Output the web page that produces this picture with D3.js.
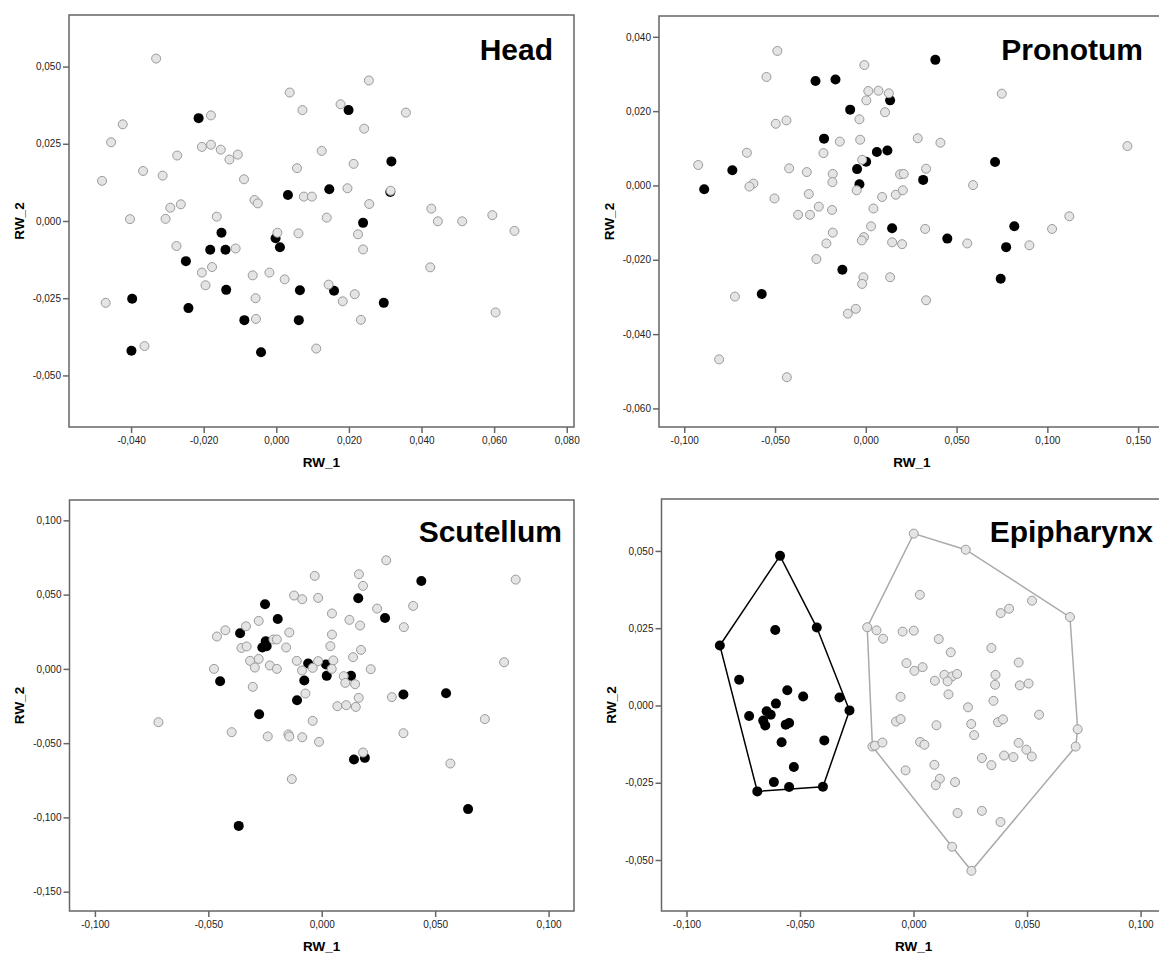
<!DOCTYPE html>
<html>
<head>
<meta charset="utf-8">
<script src="https://cdn.jsdelivr.net/npm/d3@7"></script>
<style>
    body { margin: 0; background: #fff; }
    svg { display: block; }
    text { font-family: "Liberation Sans", Arial, sans-serif; }
</style>
</head>
<body>
<div id="chart"></div>
<script>
// RW_1 / RW_2 scores, [x, y], black = group A, grey = group B
let headBlack = [
    [-0.0214, 0.0333], [0.0032, 0.0084], [-0.0151, -0.0038], [-0.0002, -0.0056],
    [0.0199, 0.0359], [0.0317, 0.0193], [0.0146, 0.0103], [0.0239, -0.0006],
    [0.0314, 0.0094], [0.0010, -0.0085], [-0.0182, -0.0093], [-0.0140, -0.0093],
    [-0.0249, -0.0130], [-0.0138, -0.0223], [-0.0397, -0.0252], [-0.0242, -0.0282],
    [-0.0088, -0.0321], [-0.0399, -0.0420], [-0.0042, -0.0425], [0.0065, -0.0224],
    [0.0062, -0.0321], [0.0159, -0.0226], [0.0296, -0.0265]
];
let headGrey = [
    [-0.0331, 0.0526], [-0.0423, 0.0313], [-0.0455, 0.0255], [-0.0480, 0.0130],
    [-0.0403, 0.0006], [-0.0367, 0.0162], [-0.0313, 0.0147], [-0.0273, 0.0212],
    [-0.0292, 0.0043], [-0.0263, 0.0054], [-0.0305, 0.0007], [-0.0205, 0.0240],
    [-0.0180, 0.0342], [-0.0180, 0.0247], [-0.0153, 0.0231], [-0.0129, 0.0199],
    [-0.0106, 0.0215], [-0.0089, 0.0135], [-0.0164, 0.0014], [-0.0060, 0.0068],
    [-0.0051, 0.0057], [0.0037, 0.0416], [0.0057, 0.0171], [0.0003, -0.0038],
    [0.0061, -0.0040], [0.0255, 0.0455], [0.0072, 0.0359], [0.0177, 0.0378],
    [0.0357, 0.0351], [0.0242, 0.0299], [0.0125, 0.0227], [0.0213, 0.0185],
    [0.0196, 0.0106], [0.0076, 0.0079], [0.0098, 0.0079], [0.0315, 0.0098],
    [0.0256, 0.0055], [0.0139, 0.0011], [0.0427, 0.0040], [0.0445, -0.0001],
    [0.0512, -0.0001], [0.0595, 0.0019], [0.0656, -0.0032], [0.0225, -0.0043],
    [-0.0275, -0.0081], [-0.0112, -0.0089], [-0.0205, -0.0167], [-0.0177, -0.0149],
    [-0.0195, -0.0208], [-0.0065, -0.0176], [-0.0019, -0.0167], [0.0023, -0.0189],
    [-0.0057, -0.0250], [-0.0056, -0.0317], [-0.0470, -0.0265], [-0.0363, -0.0405],
    [0.0239, -0.0092], [0.0424, -0.0150], [0.0144, -0.0206], [0.0216, -0.0237],
    [0.0183, -0.0260], [0.0233, -0.0320], [0.0604, -0.0296], [0.0110, -0.0413]
];

let pronotumBlack = [
    [-0.0890, -0.0010], [-0.0735, 0.0041], [-0.0277, 0.0281], [-0.0167, 0.0285],
    [-0.0086, 0.0204], [-0.0230, 0.0126], [0.0061, 0.0090], [0.0119, 0.0094],
    [-0.0048, 0.0044], [0.0002, 0.0064], [-0.0035, 0.0003], [0.0383, 0.0338],
    [0.0134, 0.0229], [0.0712, 0.0063], [0.0316, 0.0015], [0.0145, -0.0115],
    [0.0818, -0.0110], [0.0449, -0.0143], [-0.0573, -0.0292], [-0.0129, -0.0227],
    [0.0773, -0.0166], [0.0743, -0.0251]
];
let pronotumGrey = [
    [-0.0487, 0.0362], [-0.0547, 0.0292], [-0.0008, 0.0324], [0.0014, 0.0254],
    [0.0070, 0.0255], [0.0127, 0.0248], [0.0003, 0.0229], [-0.0035, 0.0178],
    [-0.0496, 0.0166], [-0.0437, 0.0175], [-0.0143, 0.0118], [-0.0031, 0.0123],
    [-0.0655, 0.0088], [-0.0233, 0.0087], [-0.0923, 0.0055], [-0.0422, 0.0046],
    [-0.0325, 0.0036], [-0.0182, 0.0031], [-0.0184, 0.0009], [-0.0020, 0.0069],
    [-0.0619, 0.0005], [-0.0641, -0.0003], [-0.0050, -0.0013], [-0.0503, -0.0035],
    [-0.0314, -0.0023], [-0.0259, -0.0057], [-0.0373, -0.0079], [-0.0307, -0.0079],
    [-0.0186, -0.0066], [0.0042, -0.0062], [0.0029, -0.0110], [-0.0182, -0.0127],
    [-0.0010, -0.0139], [-0.0022, -0.0148], [0.0106, 0.0197], [0.0286, 0.0127],
    [0.0411, 0.0115], [0.0749, 0.0247], [0.1441, 0.0106], [0.0332, 0.0045],
    [0.0189, 0.0030], [0.0209, 0.0031], [0.0090, -0.0031], [0.0165, -0.0025],
    [0.0204, -0.0013], [0.0591, 0.0001], [0.0327, -0.0117], [0.1026, -0.0117],
    [0.1121, -0.0083], [-0.0217, -0.0156], [-0.0272, -0.0198], [-0.0013, -0.0247],
    [-0.0020, -0.0265], [-0.0055, -0.0332], [-0.0099, -0.0345], [-0.0721, -0.0299],
    [-0.0808, -0.0468], [-0.0435, -0.0516], [0.0145, -0.0153], [0.0200, -0.0158],
    [0.0559, -0.0156], [0.0901, -0.0161], [0.0134, -0.0247], [0.0332, -0.0309]
];

let scutellumBlack = [
    [-0.0250, 0.0435], [-0.0194, 0.0336], [-0.0360, 0.0240], [-0.0247, 0.0186],
    [-0.0262, 0.0144], [-0.0243, 0.0153], [-0.0448, -0.0083], [-0.0109, -0.0211],
    [-0.0276, -0.0305], [-0.0366, -0.1057], [0.0439, 0.0592], [0.0161, 0.0476],
    [0.0279, 0.0343], [-0.0060, 0.0036], [0.0019, 0.0030], [0.0022, -0.0047],
    [0.0129, -0.0047], [-0.0077, -0.0078], [0.0360, -0.0172], [0.0548, -0.0164],
    [0.0142, -0.0610], [0.0190, -0.0599], [0.0645, -0.0944]
];
let scutellumGrey = [
    [-0.0122, 0.0494], [-0.0278, 0.0323], [-0.0334, 0.0287], [-0.0425, 0.0260],
    [-0.0462, 0.0218], [-0.0143, 0.0245], [-0.0354, 0.0141], [-0.0331, 0.0151],
    [-0.0213, 0.0198], [-0.0198, 0.0198], [-0.0157, 0.0144], [-0.0316, 0.0054],
    [-0.0278, 0.0067], [-0.0295, 0.0009], [-0.0229, 0.0023], [-0.0198, 0.0000],
    [-0.0110, 0.0054], [-0.0475, 0.0000], [-0.0304, -0.0121], [-0.0720, -0.0359],
    [-0.0397, -0.0426], [-0.0238, -0.0455], [-0.0147, -0.0441], [-0.0143, -0.0455],
    [-0.0132, -0.0742], [0.0284, 0.0731], [0.0164, 0.0637], [-0.0031, 0.0626],
    [0.0182, 0.0559], [0.0855, 0.0601], [-0.0086, 0.0469], [-0.0016, 0.0478],
    [0.0244, 0.0406], [0.0403, 0.0424], [0.0045, 0.0373], [0.0122, 0.0330],
    [0.0169, 0.0292], [0.0362, 0.0281], [0.0045, 0.0231], [0.0038, 0.0153],
    [0.0173, 0.0128], [0.0138, 0.0079], [-0.0016, 0.0052], [0.0051, 0.0057],
    [-0.0087, -0.0011], [-0.0040, 0.0007], [0.0044, 0.0000], [0.0216, -0.0002],
    [0.0804, 0.0045], [0.0097, -0.0049], [0.0104, -0.0094], [0.0147, -0.0103],
    [-0.0072, -0.0166], [0.0163, -0.0195], [0.0309, -0.0190], [0.0069, -0.0251],
    [0.0108, -0.0244], [0.0150, -0.0256], [0.0719, -0.0338], [-0.0040, -0.0350],
    [-0.0086, -0.0460], [-0.0012, -0.0491], [0.0360, -0.0433], [0.0182, -0.0563],
    [0.0567, -0.0637]
];

let epipharynxBlack = [
    [-0.0588, 0.0484], [-0.0609, 0.0244], [-0.0426, 0.0252], [-0.0853, 0.0194],
    [-0.0768, 0.0083], [-0.0556, 0.0049], [-0.0486, 0.0029], [-0.0326, 0.0026],
    [-0.0606, 0.0006], [-0.0282, -0.0016], [-0.0724, -0.0034], [-0.0647, -0.0019],
    [-0.0629, -0.0030], [-0.0662, -0.0049], [-0.0653, -0.0065], [-0.0563, -0.0062],
    [-0.0548, -0.0057], [-0.0581, -0.0119], [-0.0393, -0.0113], [-0.0527, -0.0199],
    [-0.0615, -0.0248], [-0.0548, -0.0264], [-0.0399, -0.0263], [-0.0688, -0.0278]
];
let epipharynxGrey = [
    [-0.0204, 0.0253], [-0.0163, 0.0243], [-0.0181, -0.0133], [-0.0170, -0.0130],
    [0.0001, 0.0556], [0.0230, 0.0504], [0.0028, 0.0358], [0.0522, 0.0339],
    [0.0384, 0.0299], [0.0421, 0.0313], [0.0689, 0.0286], [-0.0134, 0.0216],
    [-0.0048, 0.0239], [0.0001, 0.0242], [0.0111, 0.0215], [0.0164, 0.0172],
    [0.0343, 0.0186], [0.0463, 0.0139], [-0.0031, 0.0137], [0.0004, 0.0112],
    [0.0040, 0.0124], [0.0094, 0.0080], [0.0136, 0.0099], [0.0170, 0.0094],
    [0.0192, 0.0102], [0.0150, 0.0078], [0.0361, 0.0099], [0.0359, 0.0067],
    [0.0468, 0.0065], [0.0507, 0.0071], [0.0154, 0.0036], [-0.0057, 0.0028],
    [0.0352, 0.0015], [0.0240, -0.0006], [0.0553, -0.0030], [-0.0077, -0.0052],
    [-0.0057, -0.0044], [0.0101, -0.0064], [0.0254, -0.0060], [0.0372, -0.0054],
    [0.0394, -0.0045], [0.0723, -0.0077], [0.0267, -0.0096], [-0.0137, -0.0120],
    [0.0029, -0.0118], [0.0048, -0.0127], [0.0463, -0.0121], [0.0497, -0.0143],
    [0.0521, -0.0165], [0.0714, -0.0133], [0.0301, -0.0170], [0.0343, -0.0193],
    [0.0399, -0.0162], [0.0440, -0.0167], [-0.0035, -0.0210], [0.0092, -0.0192],
    [0.0116, -0.0237], [0.0098, -0.0258], [0.0183, -0.0248], [0.0194, -0.0348],
    [0.0301, -0.0341], [0.0383, -0.0377], [0.0170, -0.0457], [0.0255, -0.0535]
];

// Tick values
let headXTicks = [-0.04, -0.02, 0, 0.02, 0.04, 0.06, 0.08],
    headYTicks = [-0.05, -0.025, 0, 0.025, 0.05],
    pronotumXTicks = [-0.1, -0.05, 0, 0.05, 0.1, 0.15],
    pronotumYTicks = [-0.06, -0.04, -0.02, 0, 0.02, 0.04],
    scutellumXTicks = [-0.1, -0.05, 0, 0.05, 0.1],
    scutellumYTicks = [-0.15, -0.1, -0.05, 0, 0.05, 0.1],
    epipharynxXTicks = [-0.1, -0.05, 0, 0.05, 0.1],
    epipharynxYTicks = [-0.05, -0.025, 0, 0.025, 0.05];

// Panel layout: box = [left, top, right, bottom] of the frame
let panels = [
    { title: 'Head', black: headBlack, grey: headGrey, xTicks: headXTicks, yTicks: headYTicks,
      xDomain: [-0.0571, 0.0820], yDomain: [-0.0667, 0.0667], box: [69, 15, 574, 427], titleOff: [21, 45] },
    { title: 'Pronotum', black: pronotumBlack, grey: pronotumGrey, xTicks: pronotumXTicks, yTicks: pronotumYTicks,
      xDomain: [-0.1139, 0.1648], yDomain: [-0.0650, 0.0456], box: [659, 16, 1165, 427], titleOff: [22, 44] },
    { title: 'Scutellum', black: scutellumBlack, grey: scutellumGrey, xTicks: scutellumXTicks, yTicks: scutellumYTicks,
      xDomain: [-0.1112, 0.1112], yDomain: [-0.1630, 0.1137], box: [69.5, 500, 574, 911], titleOff: [12, 42] },
    { title: 'Epipharynx', black: epipharynxBlack, grey: epipharynxGrey, xTicks: epipharynxXTicks, yTicks: epipharynxYTicks,
      xDomain: [-0.1110, 0.1112], yDomain: [-0.0665, 0.0668], box: [661.5, 499, 1166, 911], titleOff: [13, 43], hulls: true }
];

let fmt = d3.formatLocale({ decimal: ',', thousands: '.', grouping: [3], currency: ['', ''], minus: '-' }).format('.3f');

let svg = d3.select('#chart')
    .append('svg')
    .attr('width', 1159)
    .attr('height', 956);

function styleAxis(g) {
    g.select('.domain').remove();
    g.selectAll('.tick line').attr('stroke', '#666').attr('stroke-width', 1.5);
    g.selectAll('.tick text').attr('fill', '#222').style('font-size', '10px');
}

function drawPanel(p) {
    let [left, top, right, bottom] = p.box;
    let x = d3.scaleLinear().domain(p.xDomain).range([left, right]),
        y = d3.scaleLinear().domain(p.yDomain).range([bottom, top]),
        g = svg.append('g').attr('class', 'panel');

    g.append('g')
        .attr('transform', `translate(0,${bottom})`)
        .call(d3.axisBottom(x).tickValues(p.xTicks).tickSize(6).tickPadding(4).tickFormat(fmt))
        .call(styleAxis);
    g.append('g')
        .attr('transform', `translate(${left},0)`)
        .call(d3.axisLeft(y).tickValues(p.yTicks).tickSize(6).tickPadding(2).tickFormat(fmt))
        .call(styleAxis);

    // frame
    g.append('rect')
        .attr('x', left).attr('y', top)
        .attr('width', right - left).attr('height', bottom - top)
        .attr('fill', 'none')
        .attr('stroke', '#666')
        .attr('stroke-width', 1.5);

    // axis titles
    g.append('text')
        .attr('x', (left + right) / 2)
        .attr('y', bottom + 40)
        .attr('text-anchor', 'middle')
        .style('font-size', '13.5px')
        .style('font-weight', 'bold')
        .text('RW_1');
    g.append('text')
        .attr('transform', `translate(${left - 45.5},${(top + bottom) / 2}) rotate(-90)`)
        .attr('text-anchor', 'middle')
        .style('font-size', '13.5px')
        .style('font-weight', 'bold')
        .text('RW_2');

    g.append('text')
        .attr('x', right - p.titleOff[0])
        .attr('y', top + p.titleOff[1])
        .attr('text-anchor', 'end')
        .style('font-size', '30px')
        .style('font-weight', 'bold')
        .text(p.title);

    // convex hulls around each group
    if (p.hulls) {
        [[p.black, '#000'], [p.grey, '#aaa']].forEach(([pts, col]) => {
            let hull = d3.polygonHull(pts.map((d) => [x(d[0]), y(d[1])]));
            g.append('path')
                .attr('d', 'M' + hull.join('L') + 'Z')
                .attr('fill', 'none')
                .attr('stroke', col)
                .attr('stroke-width', 1.5);
        });
    }

    g.append('g')
        .selectAll('circle')
        .data(p.black)
        .enter().append('circle')
        .attr('cx', (d) => x(d[0]))
        .attr('cy', (d) => y(d[1]))
        .attr('r', 5)
        .attr('fill', '#000');

    g.append('g')
        .selectAll('circle')
        .data(p.grey)
        .enter().append('circle')
        .attr('cx', (d) => x(d[0]))
        .attr('cy', (d) => y(d[1]))
        .attr('r', 4.5)
        .attr('fill', '#e4e4e4')
        .attr('stroke', '#9a9a9a')
        .attr('stroke-width', 1);
}

panels.forEach(drawPanel);
</script>
</body>
</html>
